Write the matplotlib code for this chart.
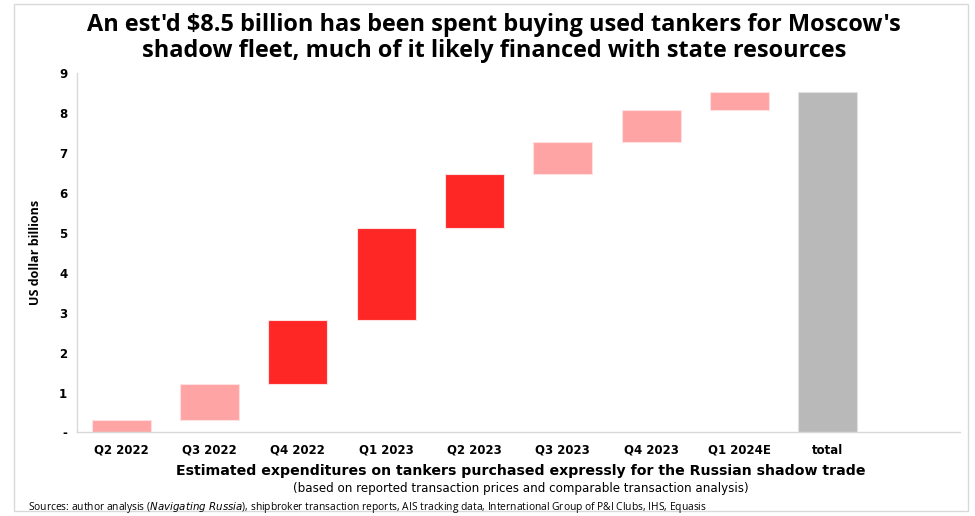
import matplotlib
matplotlib.use("Agg")
import matplotlib.pyplot as plt
from matplotlib.patches import Rectangle

# Quarterly spending on tankers (US$ billions) and the running total
categories = ["Q2 2022", "Q3 2022", "Q4 2022", "Q1 2023", "Q2 2023",
              "Q3 2023", "Q4 2023", "Q1 2024E", "total"]
increments = [0.30, 0.92, 1.60, 2.29, 1.36, 0.82, 0.78, 0.47]
highlight = [False, False, True, True, True, False, False, False]
total_value = sum(increments)
y_ticks = [0, 1, 2, 3, 4, 5, 6, 7, 8, 9]
y_tick_labels = ["-", "1", "2", "3", "4", "5", "6", "7", "8", "9"]

DARK = "#FF2626"
LIGHT = "#FFA4A4"
GREY = "#B9B9B9"

fig = plt.figure(figsize=(9.75, 5.16), dpi=100)
ax = fig.add_axes([0.079, 0.162, 0.906, 0.696])

bottoms = []
running = 0.0
for v in increments:
    bottoms.append(running)
    running += v

colors = [DARK if h else LIGHT for h in highlight]
x = list(range(len(categories)))
ax.bar(x[:-1], increments, bottom=bottoms, width=0.67, color=colors,
       edgecolor="#FFE0E0", linewidth=0.8)
ax.bar(x[-1], total_value, width=0.67, color=GREY, edgecolor="#E2E2E2",
       linewidth=0.8)

ax.set_xlim(-0.5, 9.5)
ax.set_ylim(0, 9)
ax.set_yticks(y_ticks)
ax.set_yticklabels(y_tick_labels, fontsize=8.5, fontweight="bold",
                   family="DejaVu Sans")
ax.set_xticks(x)
ax.set_xticklabels(categories, fontsize=8.5, fontweight="bold",
                   family="DejaVu Sans")
ax.tick_params(axis="x", length=0, pad=8)
ax.tick_params(axis="y", length=0, pad=7)

for s in ["top", "right"]:
    ax.spines[s].set_visible(False)
for s in ["left", "bottom"]:
    ax.spines[s].set_color("#D9D9D9")
    ax.spines[s].set_linewidth(1.0)

ax.set_ylabel("US dollar billions", fontsize=9, fontweight="bold",
              family="Open Sans")
ax.yaxis.set_label_coords(-0.04, 0.5)

fig.text(0.507, 0.975, "An est'd $8.5 billion has been spent buying used tankers for Moscow's\n"
         "shadow fleet, much of it likely financed with state resources",
         ha="center", va="top", fontsize=16.9, fontweight="bold",
         family="Open Sans", linespacing=1.12)

fig.text(0.534, 0.088, "Estimated expenditures on tankers purchased expressly for the Russian shadow trade",
         ha="center", va="center", fontsize=10.2, fontweight="bold",
         family="DejaVu Sans")
fig.text(0.534, 0.054, "(based on reported transaction prices and comparable transaction analysis)",
         ha="center", va="center", fontsize=8.6, family="DejaVu Sans")

fig.text(0.029, 0.016,
         "Sources: author analysis ($\\it{Navigating\\ Russia}$), shipbroker transaction reports, "
         "AIS tracking data, International Group of P&I Clubs, IHS, Equasis",
         ha="left", va="center", fontsize=7.35, family="Open Sans")

# Thin frame around the whole chart
fig.patches.append(Rectangle((0.014, 0.01), 0.979, 0.982, transform=fig.transFigure,
                             fill=False, edgecolor="#D9D9D9", linewidth=1.0))

fig.savefig("out.png", dpi=100, facecolor="white")
